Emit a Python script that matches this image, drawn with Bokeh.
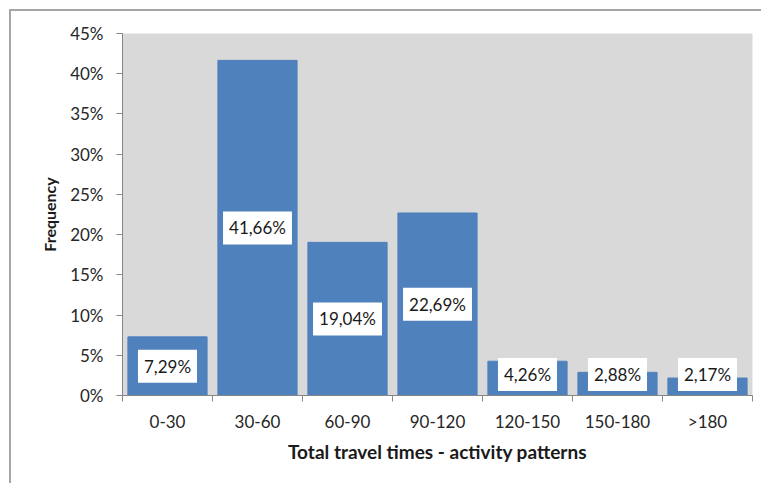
from bokeh.plotting import figure
from bokeh.models import FixedTicker, ColumnDataSource, Range1d, PrintfTickFormatter
from bokeh.embed import file_html
from bokeh.resources import INLINE
from bokeh.core.properties import value

categories = ["0-30", "30-60", "60-90", "90-120", "120-150", "150-180", ">180"]
freq = [7.29, 41.66, 19.04, 22.69, 4.26, 2.88, 2.17]
labels = ["7,29%", "41,66%", "19,04%", "22,69%", "4,26%", "2,88%", "2,17%"]
y_ticks = [0, 5, 10, 15, 20, 25, 30, 35, 40, 45]

FONT = "Lato"
xs = [i + 0.5 for i in range(len(categories))]
# label centred in the bar, but kept clear of the axis for short bars
mids = [max(f / 2, 2.6) for f in freq]
src = ColumnDataSource(dict(x=xs, top=freq, mid=mids, lab=labels))

p = figure(width=752, height=474, output_backend="svg", toolbar_location=None,
           x_range=Range1d(0, len(categories)), y_range=Range1d(0, 45),
           min_border_left=111, min_border_right=11, min_border_top=22, min_border_bottom=90)
p.margin = (9, 0, 0, 9)
p.styles = {"border-top": "2px solid #a6a6a6", "border-left": "2px solid #a6a6a6"}
p.background_fill_color = "#d9d9d9"
p.border_fill_color = "white"
p.outline_line_color = None
p.grid.visible = False

p.vbar(x="x", top="top", width=0.88, bottom=0, source=src, fill_color="#4f81bd", line_color="#4f81bd")
p.text(x="x", y="mid", text="lab", source=src, text_align="center", text_baseline="middle",
       text_font=value(FONT), text_font_size="17px", text_color="#1a1a1a",
       background_fill_color="white", padding=(6, 6))

xa = p.xaxis[0]
xa.ticker = FixedTicker(ticks=xs, minor_ticks=list(range(len(categories) + 1)))
xa.major_label_overrides = {x: c for x, c in zip(xs, categories)}
xa.major_tick_line_color = None
xa.minor_tick_out = 6
xa.minor_tick_in = 0
xa.minor_tick_line_color = "#868686"
xa.axis_line_color = "#868686"
xa.major_label_text_font = FONT
xa.major_label_text_font_size = "17px"
xa.major_label_text_color = "#262626"
xa.major_label_standoff = 9
xa.axis_label = "Total travel times - activity patterns"
xa.axis_label_text_font = FONT
xa.axis_label_text_font_style = "bold"
xa.axis_label_text_font_size = "19px"
xa.axis_label_text_color = "#1a1a1a"
xa.axis_label_standoff = 5

ya = p.yaxis[0]
ya.ticker = FixedTicker(ticks=y_ticks)
ya.formatter = PrintfTickFormatter(format="%d%%")
ya.major_tick_out = 6
ya.major_tick_in = 0
ya.minor_tick_line_color = None
ya.major_tick_line_color = "#868686"
ya.axis_line_color = "#868686"
ya.major_label_text_font = FONT
ya.major_label_text_font_size = "17px"
ya.major_label_text_color = "#262626"
ya.major_label_standoff = 13
ya.axis_label = "Frequency"
ya.axis_label_text_font = FONT
ya.axis_label_text_font_style = "bold"
ya.axis_label_text_font_size = "16px"
ya.axis_label_text_color = "#1a1a1a"
ya.axis_label_standoff = 8

open("out.html", "w").write(file_html(p, INLINE))
